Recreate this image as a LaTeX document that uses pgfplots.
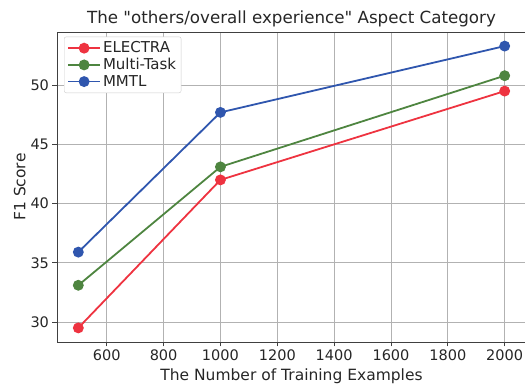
\documentclass[border=0pt]{standalone}
\usepackage{fontspec}
\setmainfont{DejaVu Sans}[Ligatures=TeXOff]
\usepackage{pgfplots}
\pgfplotsset{compat=1.18}
\definecolor{cred}{HTML}{EE3340}
\definecolor{cgreen}{HTML}{4E8540}
\definecolor{cblue}{HTML}{2F56AE}
\begin{document}
\begin{tikzpicture}
\begin{axis}[
  scale only axis, width=469pt, height=310pt,
  xmin=425, xmax=2075, ymin=28.31, ymax=54.49,
  xtick={600,800,...,2000}, ytick={30,35,...,50},
  grid=major, grid style={line width=0.9pt, color=black!30},
  axis line style={line width=0.9pt, color=black!75},
  tick align=outside, xtick pos=left, ytick pos=left,
  major tick length=4.5pt, tick style={line width=0.9pt, color=black!75},
  ticklabel style={font=\fontsize{14.5}{16}\selectfont, text=black!85},
  /pgf/number format/assume math mode=true,
  /pgf/number format/1000 sep={},
  xlabel={The Number of Training Examples},
  ylabel={F1 Score},
  xlabel style={yshift=-1pt},
  ylabel style={yshift=-2pt},
  label style={font=\fontsize{15.5}{17}\selectfont, text=black!85},
  title={The "others/overall experience" Aspect Category},
  title style={font=\fontsize{16.7}{18}\selectfont, text=black!85, yshift=-5pt},
  legend style={at={(0.015,0.985)}, anchor=north west, draw=black!20, rounded corners=2pt,
    font=\fontsize{15}{16}\selectfont, text=black!85, row sep=0pt, inner sep=3pt},
  legend image code/.code={\draw[mark repeat=2,mark phase=2] plot coordinates {(0pt,0pt) (16pt,0pt) (32pt,0pt)};},
  legend cell align=left,
]
\addplot[color=cred, line width=1.8pt, mark=*, mark size=4.5pt] coordinates {(500,29.5) (1000,42.0) (2000,49.5)};
\addlegendentry{ELECTRA}
\addplot[color=cgreen, line width=1.8pt, mark=*, mark size=4.5pt] coordinates {(500,33.1) (1000,43.1) (2000,50.8)};
\addlegendentry{Multi-Task}
\addplot[color=cblue, line width=1.8pt, mark=*, mark size=4.5pt] coordinates {(500,35.9) (1000,47.7) (2000,53.3)};
\addlegendentry{MMTL}
\end{axis}
\pgfresetboundingbox
\useasboundingbox ([shift={(-57pt,-43pt)}]current axis.south west) rectangle ([shift={(468pt,32pt)}]current axis.north west);
\end{tikzpicture}
\end{document}
